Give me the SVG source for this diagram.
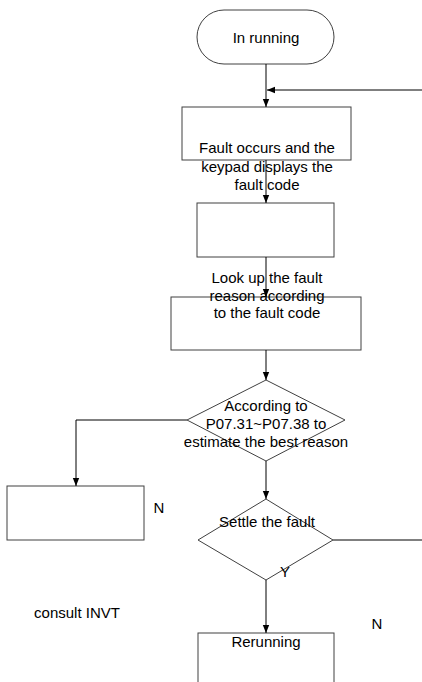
<svg xmlns="http://www.w3.org/2000/svg" width="422" height="682" viewBox="0 0 422 682">
<style>
.s{fill:#fff;stroke:#404040;stroke-width:1}
.t{font-family:"Liberation Sans",Arial,sans-serif;font-size:15px;fill:#000;text-anchor:middle}
.c{fill:none;stroke:#000;stroke-width:1}
</style>
<defs>
<marker id="a" markerWidth="8" markerHeight="10" refX="10" refY="4" viewBox="0 0 10 8" orient="auto" markerUnits="userSpaceOnUse">
<path d="M0,0L10,4L0,8Z" fill="#000"/>
</marker>
</defs>
<rect width="422" height="682" fill="#fff"/>
<g id="start"><rect class="s" x="197" y="10" width="137" height="54" rx="27"/><text class="t" x="266" y="43">In running</text></g>
<g id="fault"><rect class="s" x="182" y="107" width="169" height="53"/></g>
<g id="box2"><rect class="s" x="197" y="203" width="137" height="54"/></g>
<g id="lookup"><rect class="s" x="171" y="297" width="190" height="53"/></g>
<g id="estimate"><path class="s" d="M266,380L345,420L266,461L187,420Z"/></g>
<g id="consult"><rect class="s" x="7" y="486" width="137" height="54"/></g>
<g id="settle"><path class="s" d="M266,499L333,540L266,580L198,540Z"/></g>
<g id="rerun"><rect class="s" x="198" y="633" width="136" height="60"/></g>
<g id="labels">
<text class="t" x="267" y="153">Fault occurs and the</text>
<text class="t" x="267" y="172">keypad displays the</text>
<text class="t" x="267" y="190">fault code</text>
<text class="t" x="267" y="283">Look up the fault</text>
<text class="t" x="267" y="301">reason according</text>
<text class="t" x="267" y="318">to the fault code</text>
<text class="t" x="266" y="411">According to</text>
<text class="t" x="266" y="429">P07.31~P07.38 to</text>
<text class="t" x="266" y="447">estimate the best reason</text>
<text class="t" x="159" y="513">N</text>
<text class="t" x="267" y="527">Settle the fault</text>
<text class="t" x="285" y="577">Y</text>
<text class="t" x="77" y="618">consult INVT</text>
<text class="t" x="377" y="629">N</text>
<text class="t" x="266" y="647">Rerunning</text>
</g>
<g id="connectors">
<path class="c" d="M266,64V107" marker-end="url(#a)"/>
<path class="c" d="M422,90H267" marker-end="url(#a)"/>
<path class="c" d="M266,160V203" marker-end="url(#a)"/>
<path class="c" d="M266,257V297" marker-end="url(#a)"/>
<path class="c" d="M266,350V380" marker-end="url(#a)"/>
<path class="c" d="M187,420H76V486" marker-end="url(#a)"/>
<path class="c" d="M266,461V499" marker-end="url(#a)"/>
<path class="c" d="M333,540H422"/>
<path class="c" d="M266,580V633" marker-end="url(#a)"/>
</g>
</svg>
